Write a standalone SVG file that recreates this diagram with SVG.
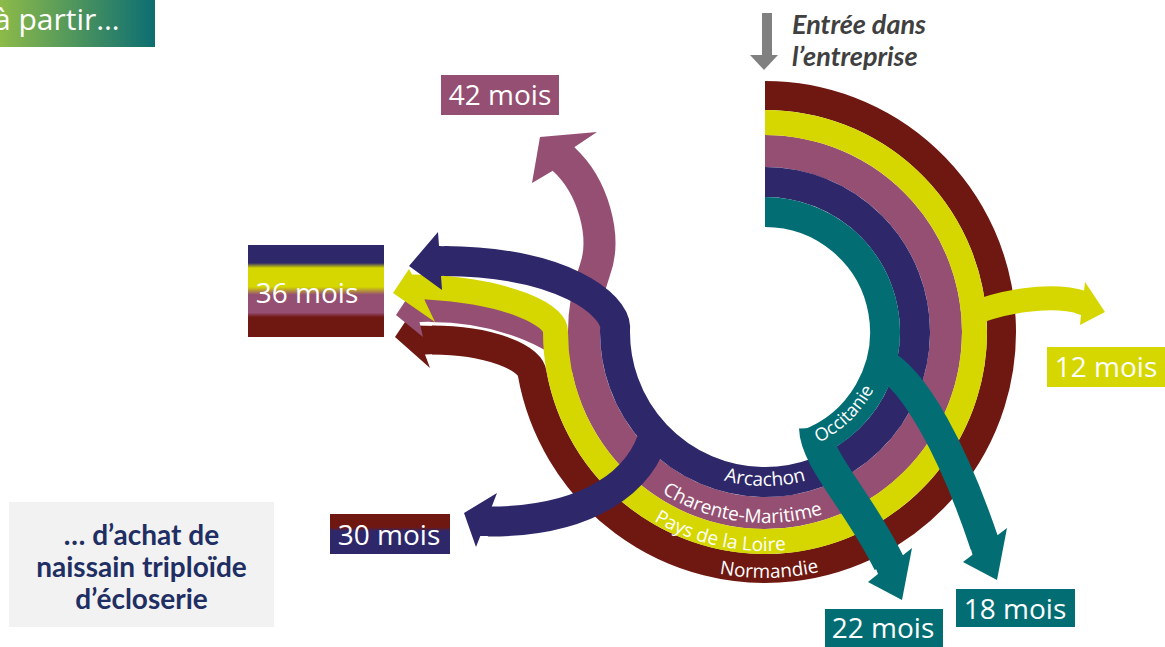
<svg xmlns="http://www.w3.org/2000/svg" width="1165" height="647" viewBox="0 0 1165 647">
<defs>
<style>
.band{fill:none;stroke-linecap:butt;stroke-linejoin:round}
.c-mr{stroke:#6F1711}.c-ye{stroke:#D6D700}.c-mv{stroke:#954F72}.c-nv{stroke:#2E286B}.c-tl{stroke:#036D74}
.f-mr{fill:#6F1711}.f-ye{fill:#D6D700}.f-mv{fill:#954F72}.f-nv{fill:#2E286B}.f-tl{fill:#036D74}
.lbl{font-family:"Open Sans","Noto Sans",sans-serif;fill:#fff;font-size:28px;text-anchor:middle}
.ring-lbl{font-family:"Open Sans","Noto Sans",sans-serif;fill:#fff;font-size:19px;text-anchor:middle}
.note{font-family:Lato,"Liberation Sans",sans-serif;font-weight:bold}
</style>
<linearGradient id="g-start" x1="0" y1="0" x2="1" y2="0">
<stop offset="0" stop-color="#8DBA49"/><stop offset="1" stop-color="#0C6E72"/>
</linearGradient>
<linearGradient id="g-36" x1="0" y1="0" x2="0" y2="1">
<stop offset="0" stop-color="#2E286B"/><stop offset="0.195" stop-color="#2E286B"/>
<stop offset="0.25" stop-color="#D6D700"/><stop offset="0.455" stop-color="#D6D700"/>
<stop offset="0.54" stop-color="#954F72"/><stop offset="0.735" stop-color="#954F72"/>
<stop offset="0.785" stop-color="#6F1711"/><stop offset="1" stop-color="#6F1711"/>
</linearGradient>
<linearGradient id="g-30" x1="0" y1="0" x2="0" y2="1">
<stop offset="0" stop-color="#6F1711"/><stop offset="0.33" stop-color="#6F1711"/>
<stop offset="0.43" stop-color="#2E286B"/><stop offset="1" stop-color="#2E286B"/>
</linearGradient>
<path id="tp-arcachon" d="M 699.9 471.6 A 154 154 0 0 0 830.1 471.6"/>
<path id="tp-charente" d="M 618.7 454.8 A 191 191 0 0 0 874.6 488.5"/>
<path id="tp-pays" d="M 585.6 457.6 A 219 219 0 0 0 874.5 521.7"/>
<path id="tp-normandie" d="M 606.9 520.4 A 246 246 0 0 0 929.6 514.8"/>
<path id="tp-occitanie" d="M 786.4 453.1 A 123 123 0 0 0 885.3 357.6"/>
</defs>

<rect width="1165" height="647" fill="#fff"/>

<g id="start-label">
<rect x="0" y="0" width="155" height="47" fill="url(#g-start)"/>
<text x="-6" y="30" font-family="'Open Sans','Noto Sans',sans-serif" font-size="30" fill="#fff">à partir…</text>
</g>

<g id="entry">
<polygon points="762,13 772,13 772,55 778,55 764,70 750,55 762,55" fill="#808080"/>
<text font-family="Lato,'Liberation Sans',sans-serif" font-weight="bold" font-style="italic" font-size="27" fill="#404040"><tspan x="792" y="34">Entrée dans</tspan><tspan x="792" y="66">l’entreprise</tspan></text>
</g>

<g id="connectors">
<!-- Normandie -->
<path class="band c-mr" stroke-width="29" d="M 765 95.5 A 236.5 236.5 0 1 1 532.1 373.1 C 530 358 490 340 432 340"/>
<polygon class="f-mr" points="415,325.5 411,313 395,337 430,368 425,354.5 437,354 437,326"/>
<!-- Charente-Maritime -->
<path class="band c-mv" stroke-width="24" d="M 586 370 C 565 340 505 310 430 310"/>
<polygon class="f-mv" points="413.4,298 412,291 396,315 423,337 419.5,322 436,321.5 436,298.5"/>
<path class="band c-mv" stroke-width="32" d="M 765 151 A 181 181 0 1 1 594.9 270.1 C 607.2 236.3 593 186 563.5 159"/>
<polygon class="f-mv" points="552.8,170.8 532,183 540,137 597,132 574.2,147.2 579.5,153.3 559.4,175.5"/>
<!-- Pays de la Loire -->
<path class="band c-ye" stroke-width="25" d="M 765 122.5 A 209.5 209.5 0 1 1 555.5 332 C 556 315 510 292 428 287"/>
<polygon class="f-ye" points="412,274.5 409,269 393,293 435,322 424.3,299.5 433,299 433,275"/>
<path class="band c-ye" stroke-width="24" d="M 966 316 C 1000 302 1050 292 1084 303"/>
<polygon class="f-ye" points="1084,291 1085,282 1105,312 1080,325 1081,315 1075,313 1077,291"/>
<!-- Arcachon -->
<path class="band c-nv" stroke-width="30" d="M 765 182 A 150 150 0 1 1 615.1 326.8 C 614 305 565 262 444 261"/>
<polygon class="f-nv" points="439,246 438,232 409,266 442,290 441,276 449,275.5 449,246.5"/>
<path class="band c-nv" stroke-width="30" d="M 655 430 C 643 480 590 522 488 521.5"/>
<polygon class="f-nv" points="491.6,507 497,493 464,513 476,547 480.3,536 494,536 494,507"/>
<!-- Occitanie -->
<path class="band c-tl" stroke-width="30" d="M 765 212 A 120 120 0 0 1 806 444.8"/>
<path class="band c-tl" stroke-width="32" d="M 815 428 C 816 460 858 500 889 563"/>
<polygon class="f-tl" points="868,582 902,600 912,548 902,556 896,549 873,561 878,574"/>
<path class="band c-tl" stroke-width="30" d="M 880 362 C 915 378 955 455 985 545"/>
<polygon class="f-tl" points="963,562 997,580 1007,528 997.5,535.3 994.5,529.5 968,538.5 972.5,554.7"/>
</g>

<g id="ring-labels" class="ring-lbl">
<text><textPath href="#tp-arcachon" startOffset="50%">Arcachon</textPath></text>
<text><textPath href="#tp-charente" startOffset="50%">Charente-Maritime</textPath></text>
<text><textPath href="#tp-pays" startOffset="50%">Pays de la Loire</textPath></text>
<text><textPath href="#tp-normandie" startOffset="50%">Normandie</textPath></text>
<text font-size="18"><textPath href="#tp-occitanie" startOffset="50%">Occitanie</textPath></text>
</g>

<g id="node-42">
<rect x="441" y="75" width="118" height="40" class="f-mv"/>
<text x="500" y="105" class="lbl">42 mois</text>
</g>
<g id="node-36">
<rect x="248" y="245" width="136" height="92" fill="url(#g-36)"/>
<text x="307" y="303" class="lbl">36 mois</text>
</g>
<g id="node-12">
<rect x="1047" y="347" width="118" height="40" class="f-ye"/>
<text x="1106" y="377" class="lbl">12 mois</text>
</g>
<g id="node-30">
<rect x="330" y="514" width="120" height="40" fill="url(#g-30)"/>
<text x="389" y="545" class="lbl">30 mois</text>
</g>
<g id="node-22">
<rect x="825" y="609" width="118" height="38" class="f-tl"/>
<text x="883" y="638" class="lbl">22 mois</text>
</g>
<g id="node-18">
<rect x="956" y="589" width="119" height="38" class="f-tl"/>
<text x="1015" y="619" class="lbl">18 mois</text>
</g>

<g id="note">
<rect x="9" y="502" width="265" height="125" fill="#F2F2F2"/>
<text class="note" font-size="28" fill="#1F2E63" text-anchor="middle"><tspan x="141.5" y="545">… d’achat de</tspan><tspan x="141.5" y="577">naissain triploïde</tspan><tspan x="141.5" y="609">d’écloserie</tspan></text>
</g>
</svg>
